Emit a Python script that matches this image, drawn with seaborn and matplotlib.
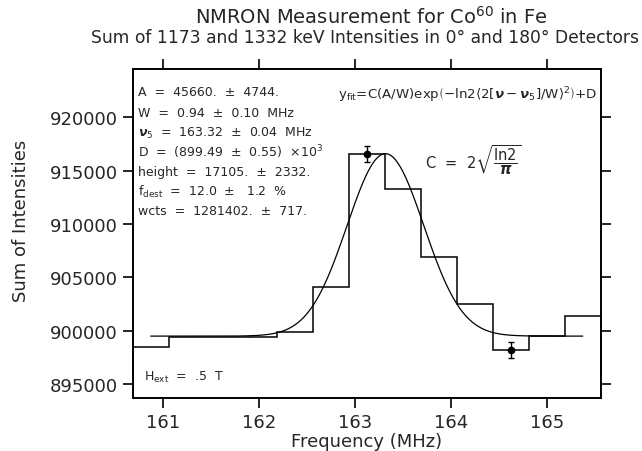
import numpy as np
import matplotlib
matplotlib.use("Agg")
import matplotlib.pyplot as plt
import seaborn as sns
import pandas as pd

# histogram of summed intensities, one value per frequency bin (MHz)
bin_centers = [160.875, 161.25, 161.625, 162.0, 162.375, 162.75, 163.125,
               163.5, 163.875, 164.25, 164.625, 165.0, 165.375]
intensities = [898450, 899440, 899450, 899380, 899850, 904060, 916560,
               913250, 906930, 902500, 898190, 899500, 901380]

# points shown with error bars
err_freq = [163.125, 164.625]
err_vals = [916560, 898190]
err_size = [720, 720]

# fit parameters printed on the chart
fit_height = 17105.
fit_center = 163.32
fit_width = 0.94
fit_offset = 899490.

bin_width = 0.375
edges = np.append(np.array(bin_centers) - bin_width / 2, bin_centers[-1] + bin_width / 2)

xfit = np.linspace(bin_centers[0], bin_centers[-1], 400)
yfit = fit_offset + fit_height * np.exp(-np.log(2) * (2 * (xfit - fit_center) / fit_width) ** 2)
fit_df = pd.DataFrame({"Frequency": xfit, "Fit": yfit})

sns.set_style("ticks")
plt.rcParams['font.family'] = ['DejaVu Sans']
plt.rcParams['mathtext.fontset'] = 'dejavusans'
plt.rcParams['mathtext.default'] = 'regular'

fig = plt.figure(figsize=(6.42, 4.52), dpi=100)
ax = fig.add_axes([0.2067, 0.1173, 0.7290, 0.7278])

ax.stairs(intensities, edges, color="black", linewidth=1.1)
sns.lineplot(data=fit_df, x="Frequency", y="Fit", color="black", linewidth=0.9, ax=ax)
ax.errorbar(err_freq, err_vals, yerr=err_size, fmt="o", color="black",
            markersize=4.5, capsize=2.5, elinewidth=1, capthick=1)

ax.set_xlim(edges[0], edges[-1])
ax.set_ylim(893690, 924530)
ax.set_xticks([161, 162, 163, 164, 165])
ax.set_yticks([895000, 900000, 905000, 910000, 915000, 920000])
ax.tick_params(direction="out", length=7, width=1.2, labelsize=13,
               top=True, right=True, labeltop=False, labelright=False, color="black")
for s in ax.spines.values():
    s.set_linewidth(1.4)
    s.set_color("black")

ax.set_xlabel("Frequency (MHz)", fontsize=13, labelpad=1)
ax.set_ylabel("Sum of Intensities", fontsize=13)
ax.yaxis.set_label_coords(-0.22, 0.54)

fig.text(0.578, 0.962, r"NMRON Measurement for Co$^{60}$ in Fe", ha="center", va="center", fontsize=14)
fig.text(0.568, 0.916, "Sum of 1173 and 1332 keV Intensities in 0° and 180° Detectors",
         ha="center", va="center", fontsize=12.3)

lines = [
    "A  =  45660.  ±  4744.",
    "W  =  0.94  ±  0.10  MHz",
    r"$\boldsymbol{\nu}_5$  =  163.32  ±  0.04  MHz",
    r"D  =  (899.49  ±  0.55)  ×10$^3$",
    "height  =  17105.  ±  2332.",
    r"f$_{dest}$  =  12.0  ±   1.2  %",
    "wcts  =  1281402.  ±  717.",
]
line_y = [92.7, 113, 133, 152, 172, 192, 212]
for txt, py in zip(lines, line_y):
    ax.text(0.011, (399 - py) / 329, txt, transform=ax.transAxes, fontsize=9, va="center", ha="left")

ax.text(0.024, (399 - 377) / 329, r"H$_{ext}$  =  .5  T", transform=ax.transAxes, fontsize=9, va="center")

ax.text(0.993, (399 - 95) / 329,
        r"y$_{fit}$=C(A/W)exp$\left(-ln2\left\langle 2[\boldsymbol{\nu}-\boldsymbol{\nu}_5]/W\right\rangle^2\right)$+D",
        transform=ax.transAxes, fontsize=9.6, va="center", ha="left" if False else "right")
ax.text((425 - 132.7) / 468, (399 - 160) / 329, r"C  =  2$\sqrt{\dfrac{ln2}{\boldsymbol{\pi}}}$",
        transform=ax.transAxes, fontsize=10.5, va="center", ha="left")

fig.savefig("out.png", dpi=100)
